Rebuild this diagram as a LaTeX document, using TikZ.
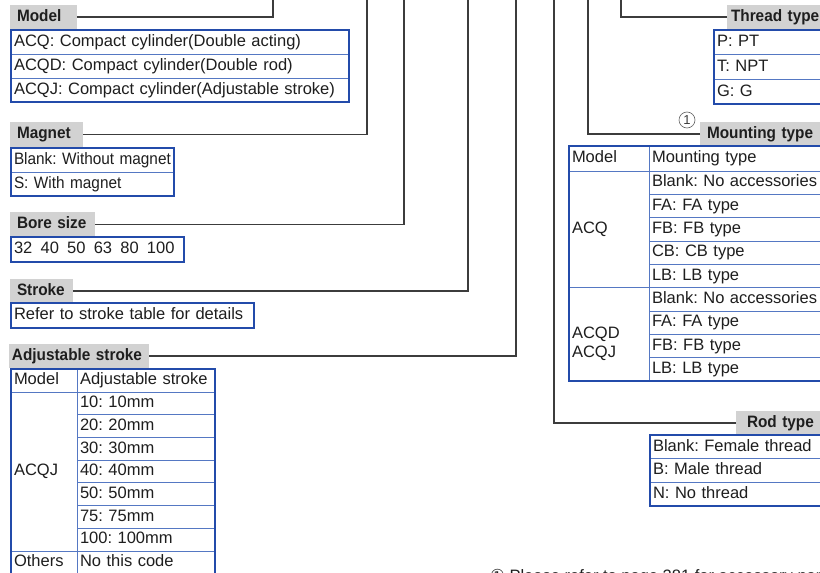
\documentclass[tikz,border=0pt]{standalone}
\usepackage{fontspec}
\setmainfont{Liberation Sans}
\newfontfamily\narrowfont[FakeStretch=0.93]{Liberation Sans}
\newfontfamily\symfont{DejaVu Sans}
\usepackage{tikz}
\usetikzlibrary{positioning,calc}
\frenchspacing

\definecolor{tblblue}{RGB}{35,75,170}
\definecolor{rowblue}{RGB}{85,120,195}
\definecolor{titlegray}{RGB}{210,210,210}
\definecolor{leadgray}{RGB}{60,60,60}
\definecolor{txtgray}{RGB}{30,30,30}

\begin{document}
\begin{tikzpicture}[x=1pt, y=-1pt,
  bodyfont/.style={font=\fontsize{16.5}{19}\selectfont},
  title/.style={fill=titlegray, anchor=north west, minimum height=24pt, inner xsep=7pt, inner ysep=0pt, outer sep=0pt,
    align=left, text height=12pt, text depth=3.5pt, text=txtgray, font=\narrowfont\bfseries\fontsize{16.5}{19}\selectfont},
  cell/.style={draw=rowblue, line width=0.8pt, anchor=north west, inner xsep=3pt, inner ysep=0pt, outer sep=0pt,
    align=left, text height=12pt, text depth=3.5pt, text=txtgray, bodyfont},
  frame/.style={draw=tblblue, line width=1.4pt},
  leader/.style={draw=leadgray, line width=1.2pt}
]
\useasboundingbox (0,0) rectangle (820,573);
\clip (0,0) rectangle (820,573);
\fill[white] (0,0) rectangle (820,573);

% Model
\node[title, text width=53pt] (modelTitle) at (10,5) {Model};
\node[cell, text width=332pt, minimum height=24pt] (acq) at (11,30) {ACQ: Compact cylinder(Double acting)};
\node[cell, text width=332pt, minimum height=24pt, below=0pt of acq] (acqd) {ACQD: Compact cylinder(Double rod)};
\node[cell, text width=332pt, minimum height=24pt, below=0pt of acqd] (acqj) {ACQJ: Compact cylinder(Adjustable stroke)};
\draw[frame] (acq.north west) rectangle (acqj.south east);

% Magnet
\node[title, text width=59pt, minimum height=25pt] (magnetTitle) at (10,122) {Magnet};
\node[cell, text width=157pt, minimum height=24pt, font=\narrowfont\fontsize{16.5}{19}\selectfont] (noMag) at (11,148) {Blank: Without magnet};
\node[cell, text width=157pt, minimum height=24pt, font=\narrowfont\fontsize{16.5}{19}\selectfont, below=0pt of noMag] (withMag) {S: With magnet};
\draw[frame] (noMag.north west) rectangle (withMag.south east);

% Bore size
\node[title, text width=71pt, minimum height=25pt] (boreTitle) at (10,212) {Bore size};
\node[cell, text width=167pt, minimum height=25pt] (bores) at (11,237) {32\enspace 40\enspace 50\enspace 63\enspace 80\enspace 100};
\draw[frame] (bores.north west) rectangle (bores.south east);

% Stroke
\node[title, text width=49pt] (strokeTitle) at (10,279) {Stroke};
\node[cell, text width=237pt, minimum height=25pt] (strokeRef) at (11,303) {Refer to stroke table for details};
\draw[frame] (strokeRef.north west) rectangle (strokeRef.south east);

% Adjustable stroke
\node[title, text width=134pt, inner xsep=3pt] (adjTitle) at (9,344) {Adjustable stroke};
\node[cell, text width=60pt, minimum height=23pt] (adjModelHd) at (11,369) {Model};
\node[cell, text width=132pt, minimum height=23pt] (adjHd) at (77,369) {Adjustable stroke};
\node[cell, text width=132pt, minimum height=22.7pt, below=0pt of adjHd] (adj10) {10: 10mm};
\node[cell, text width=132pt, minimum height=22.7pt, below=0pt of adj10] (adj20) {20: 20mm};
\node[cell, text width=132pt, minimum height=22.7pt, below=0pt of adj20] (adj30) {30: 30mm};
\node[cell, text width=132pt, minimum height=22.7pt, below=0pt of adj30] (adj40) {40: 40mm};
\node[cell, text width=132pt, minimum height=22.7pt, below=0pt of adj40] (adj50) {50: 50mm};
\node[cell, text width=132pt, minimum height=22.7pt, below=0pt of adj50] (adj75) {75: 75mm};
\node[cell, text width=132pt, minimum height=22.7pt, below=0pt of adj75] (adj100) {100: 100mm};
\node[cell, text width=60pt, minimum height=158.9pt] (adjAcqj) at (11,392) {ACQJ};
\node[cell, text width=60pt, minimum height=23pt, below=0pt of adjAcqj] (adjOthers) {Others};
\node[cell, text width=132pt, minimum height=23pt, below=0pt of adj100] (adjNone) {No this code};
\draw[frame] (adjModelHd.north west) rectangle (adjNone.south east);

% Thread type
\node[title, text width=110pt, inner xsep=4pt] (threadTitle) at (727,5) {Thread type};
\node[cell, text width=120pt, minimum height=24.7pt] (thrP) at (714,30) {P: PT};
\node[cell, text width=120pt, minimum height=24.7pt, below=0pt of thrP] (thrT) {T: NPT};
\node[cell, text width=120pt, minimum height=24.7pt, below=0pt of thrT] (thrG) {G: G};
\draw[frame] (thrP.north west) rectangle (thrG.south east);

% Mounting type
\node[title, text width=130pt, inner xsep=7pt] (mountTitle) at (700,122) {Mounting type};
\node[circle, draw=leadgray!80, line width=0.6pt, minimum size=16pt, inner sep=0pt, text=leadgray,
      font=\fontsize{13}{13}\selectfont] (mountNote) at (687,120) {1};
\node[cell, text width=74pt, minimum height=25pt] (mtModelHd) at (569,146) {Model};
\node[cell, text width=180pt, minimum height=25pt] (mtHd) at (649,146) {Mounting type};
\node[cell, text width=180pt, minimum height=23.33pt, below=0pt of mtHd] (mtBlank) {Blank: No accessories};
\node[cell, text width=180pt, minimum height=23.33pt, below=0pt of mtBlank] (mtFa) {FA: FA type};
\node[cell, text width=180pt, minimum height=23.33pt, below=0pt of mtFa] (mtFb) {FB: FB type};
\node[cell, text width=180pt, minimum height=23.33pt, below=0pt of mtFb] (mtCb) {CB: CB type};
\node[cell, text width=180pt, minimum height=23.33pt, below=0pt of mtCb] (mtLb) {LB: LB type};
\node[cell, text width=180pt, minimum height=23.33pt, below=0pt of mtLb] (mtBlankD) {Blank: No accessories};
\node[cell, text width=180pt, minimum height=23.33pt, below=0pt of mtBlankD] (mtFaD) {FA: FA type};
\node[cell, text width=180pt, minimum height=23.33pt, below=0pt of mtFaD] (mtFbD) {FB: FB type};
\node[cell, text width=180pt, minimum height=23.33pt, below=0pt of mtFbD] (mtLbD) {LB: LB type};
\node[cell, text width=74pt, minimum height=116.65pt] (mtAcq) at (569,171) {ACQ};
\node[cell, text width=74pt, minimum height=93.32pt, below=0pt of mtAcq] (mtAcqdj) {ACQD\\ACQJ};
\draw[frame] (mtModelHd.north west) rectangle (mtLbD.south east);

% Rod type
\node[title, text width=90pt, inner xsep=11pt] (rodTitle) at (736,411) {Rod type};
\node[cell, text width=180pt, minimum height=23.7pt] (rodFemale) at (650,435) {Blank: Female thread};
\node[cell, text width=180pt, minimum height=23.7pt, below=0pt of rodFemale] (rodMale) {B: Male thread};
\node[cell, text width=180pt, minimum height=23.7pt, below=0pt of rodMale] (rodNone) {N: No thread};
\draw[frame] (rodFemale.north west) rectangle (rodNone.south east);

% Footnote
\node[anchor=base west, inner sep=0pt, text=txtgray, bodyfont] (note) at (490,581) {{\symfont ①} Please refer to page 281 for accessory parts};

% Leader lines up to the model code
\coordinate (modelTop)  at (273,-5);
\coordinate (magnetTop) at (367,-5);
\coordinate (boreTop)   at (404,-5);
\coordinate (strokeTop) at (468,-5);
\coordinate (adjTop)    at (516,-5);
\coordinate (rodTop)    at (554,-5);
\coordinate (mountTop)  at (588,-5);
\coordinate (threadTop) at (621,-5);
\draw[leader] (modelTitle.east) -| (modelTop);
\draw[leader] (magnetTitle.east) -| (magnetTop);
\draw[leader] (boreTitle.east) -| (boreTop);
\draw[leader] (strokeTitle.east) -| (strokeTop);
\draw[leader] (adjTitle.east) -| (adjTop);
\draw[leader] (rodTitle.west) -| (rodTop);
\draw[leader] (mountTitle.west) -| (mountTop);
\draw[leader] (threadTitle.west) -| (threadTop);

\end{tikzpicture}
\end{document}
